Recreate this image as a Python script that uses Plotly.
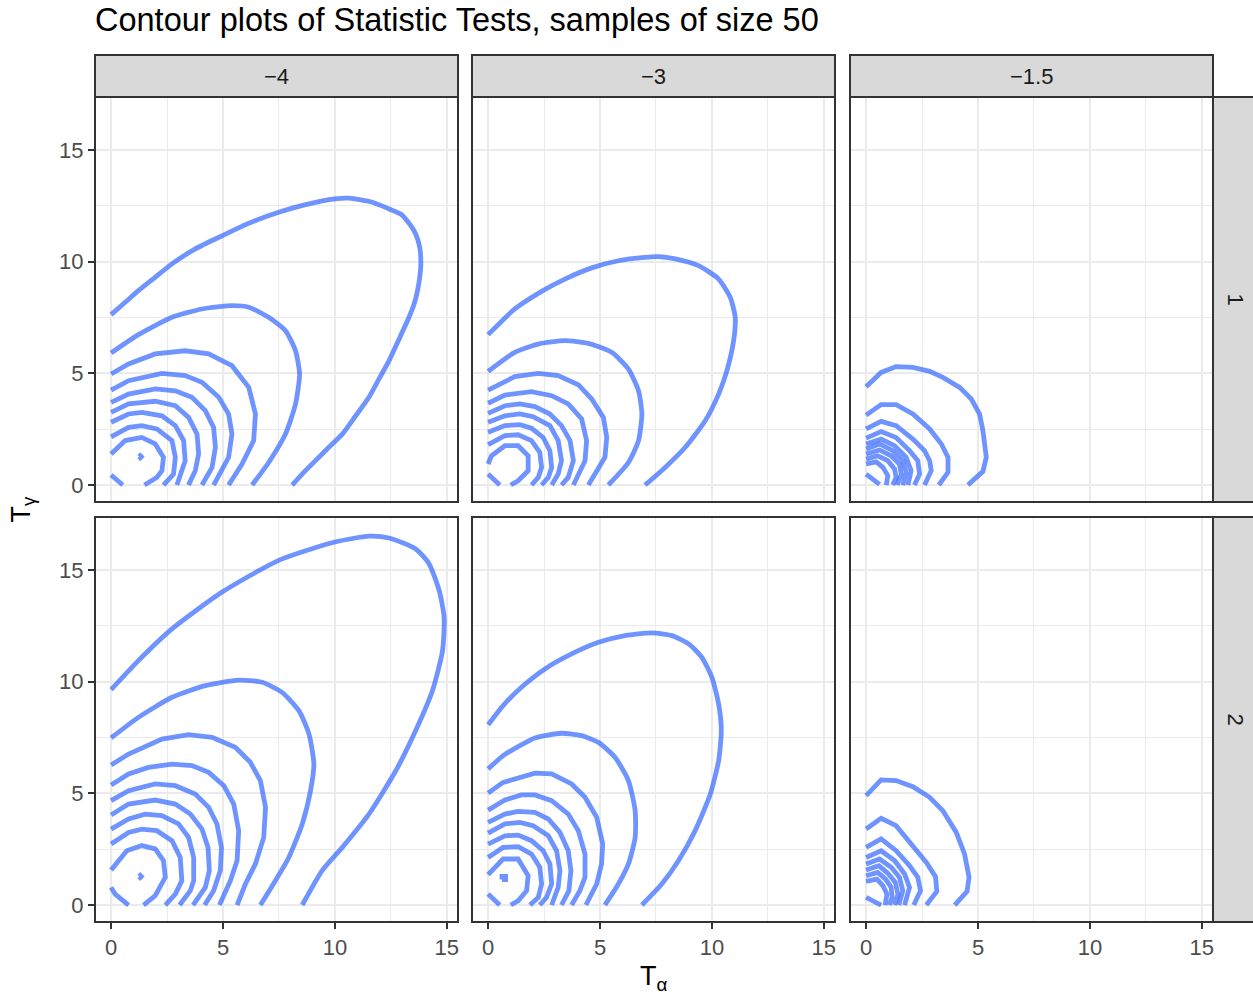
import plotly.graph_objects as go

# Facet labels
col_labels = ["\u22124", "\u22123", "\u22121.5"]
row_labels = ["1", "2"]

# Contour lines per facet, each as a list of (T_alpha, T_gamma) vertices
contours_m4_r1 = [
    [(0, 7.63), (0.63, 8.18), (1.22, 8.70), (1.97, 9.30), (2.72, 9.90), (3.76, 10.57), (4.96, 11.16),
     (6.15, 11.72), (7.49, 12.21), (8.69, 12.55), (10.0, 12.81), (10.63, 12.84), (11.67, 12.66),
     (12.42, 12.36), (12.94, 12.13), (13.39, 11.61), (13.61, 11.24), (13.79, 10.64), (13.84, 9.90),
     (13.79, 9.30), (13.69, 8.70), (13.54, 8.10), (13.31, 7.51), (12.87, 6.54), (12.42, 5.57),
     (11.97, 4.75), (11.52, 3.93), (10.93, 3.10), (10.33, 2.28), (9.73, 1.69), (9.13, 1.09),
     (8.61, 0.57), (8.09, 0)],
    [(0, 5.91), (1.22, 6.73), (2.72, 7.51), (4.06, 7.88), (5.40, 8.03), (6.15, 7.96), (7.04, 7.51),
     (7.79, 6.91), (8.24, 6.01), (8.42, 4.97), (8.24, 3.63), (7.79, 2.28), (7.04, 1.01), (6.30, 0)],
    [(0, 4.97), (0.78, 5.42), (1.97, 5.87), (3.31, 6.01), (4.36, 5.87), (5.40, 5.34), (6.15, 4.37),
     (6.45, 3.18), (6.37, 1.99), (5.85, 0.94), (5.25, 0)],
    [(0, 4.25), (0.78, 4.67), (2.27, 5.00), (3.31, 4.90), (4.06, 4.60), (4.81, 3.93), (5.25, 3.18),
     (5.40, 2.28), (5.25, 1.24), (4.58, 0)],
    [(0, 3.70), (0.78, 4.07), (1.97, 4.30), (2.87, 4.22), (3.61, 3.93), (4.21, 3.33), (4.58, 2.58),
     (4.66, 1.69), (4.51, 0.79), (4.06, 0)],
    [(0, 3.25), (0.78, 3.63), (1.97, 3.75), (2.87, 3.55), (3.46, 3.03), (3.84, 2.28), (3.91, 1.39),
     (3.76, 0.64), (3.46, 0)],
    [(0, 2.81), (0.78, 3.18), (1.37, 3.25), (2.27, 3.10), (2.87, 2.66), (3.24, 1.99), (3.31, 1.09), (2.94, 0)],
    [(0, 2.16), (0.78, 2.58), (1.37, 2.66), (2.04, 2.51), (2.72, 1.99), (2.87, 1.24), (2.79, 0.49), (2.34, 0)],
    [(0, 1.39), (0.63, 1.99), (1.37, 2.13), (1.97, 1.84), (2.34, 1.24), (2.27, 0.64), (2.04, 0.34), (1.49, 0)],
    [(0, 0.45), (0.52, 0)],
    [(1.25, 1.27), (1.30, 1.32), (1.35, 1.27), (1.30, 1.22), (1.25, 1.27)],
]

contours_m3_r1 = [
    [(0, 6.73), (1.19, 7.88), (2.39, 8.67), (3.43, 9.22), (4.63, 9.72), (5.82, 10.04), (7.01, 10.19),
     (7.61, 10.22), (8.36, 10.12), (9.40, 9.82), (10.30, 9.22), (10.82, 8.40), (11.04, 7.51), (10.97, 6.46),
     (10.67, 5.12), (10.30, 4.07), (9.70, 2.88), (8.81, 1.69), (7.91, 0.79), (7.01, 0)],
    [(0, 5.09), (1.19, 5.94), (2.24, 6.31), (3.43, 6.46), (4.48, 6.34), (5.52, 5.94), (6.27, 5.19),
     (6.72, 4.22), (6.87, 3.18), (6.72, 1.99), (6.27, 1.01), (5.37, 0)],
    [(0, 4.25), (1.19, 4.85), (2.24, 5.00), (3.13, 4.90), (4.03, 4.49), (4.63, 3.85), (5.15, 3.03),
     (5.30, 2.13), (5.22, 1.24), (4.48, 0)],
    [(0, 3.66), (0.75, 4.03), (1.94, 4.18), (2.84, 4.00), (3.58, 3.63), (4.18, 2.96), (4.40, 1.99),
     (4.33, 1.09), (3.81, 0)],
    [(0, 3.21), (0.75, 3.55), (1.42, 3.63), (2.09, 3.51), (2.76, 3.18), (3.28, 2.66), (3.66, 1.99),
     (3.81, 1.09), (3.58, 0.34), (3.28, 0)],
    [(0, 2.81), (0.75, 3.10), (1.42, 3.18), (2.01, 3.06), (2.76, 2.66), (3.13, 1.99), (3.28, 1.09),
     (3.13, 0.49), (2.84, 0)],
    [(0, 2.36), (0.75, 2.66), (1.42, 2.70), (1.94, 2.54), (2.46, 2.13), (2.76, 1.54), (2.84, 0.79),
     (2.69, 0.34), (2.39, 0)],
    [(0, 1.81), (0.75, 2.21), (1.34, 2.25), (1.94, 1.99), (2.31, 1.46), (2.39, 0.79), (2.24, 0.34), (1.94, 0)],
    [(0, 0.94), (0.15, 1.31), (0.75, 1.76), (1.34, 1.76), (1.79, 1.31), (1.79, 0.64), (1.34, 0.19), (1.01, 0)],
    [(0, 0.49), (0.52, 0)],
]

contours_m15_r1 = [
    [(0, 4.40), (0.67, 5.04), (1.34, 5.30), (2.09, 5.27), (2.84, 5.09), (3.43, 4.82), (4.18, 4.37),
     (4.70, 3.85), (5.07, 3.18), (5.22, 2.43), (5.37, 1.24), (5.22, 0.61), (4.55, 0)],
    [(0, 3.13), (0.67, 3.60), (1.34, 3.60), (2.09, 3.18), (2.84, 2.51), (3.36, 1.84), (3.66, 1.24),
     (3.66, 0.57), (3.25, 0)],
    [(0, 2.51), (0.67, 2.85), (1.34, 2.66), (2.09, 2.06), (2.61, 1.54), (2.84, 1.09), (2.91, 0.64), (2.61, 0)],
    [(0, 2.10), (0.67, 2.39), (1.34, 2.13), (1.94, 1.54), (2.31, 1.09), (2.39, 0.49), (2.16, 0)],
    [(0, 1.84), (0.67, 2.06), (1.27, 1.76), (1.79, 1.24), (2.01, 0.64), (1.87, 0)],
    [(0, 1.61), (0.60, 1.84), (1.19, 1.54), (1.64, 1.09), (1.79, 0.57), (1.64, 0)],
    [(0, 1.39), (0.60, 1.57), (1.12, 1.31), (1.49, 0.94), (1.57, 0.49), (1.39, 0)],
    [(0, 1.16), (0.52, 1.31), (0.97, 1.09), (1.27, 0.72), (1.34, 0.34), (1.19, 0)],
    [(0, 0.94), (0.45, 1.04), (0.75, 0.79), (0.97, 0.42), (0.90, 0)],
    [(0, 0.49), (0.60, 0.03)],
]

contours_m4_r2 = [
    [(0, 9.64), (1.22, 10.94), (2.72, 12.36), (4.96, 14.01), (7.49, 15.43), (10.0, 16.25), (11.52, 16.51),
     (12.42, 16.43), (13.61, 15.94), (14.21, 15.27), (14.66, 14.07), (14.88, 12.88), (14.81, 11.39),
     (14.36, 9.60), (13.61, 7.81), (12.72, 6.01), (11.52, 4.07), (10.33, 2.58), (9.43, 1.54), (8.54, 0)],
    [(0, 7.48), (1.22, 8.40), (2.72, 9.30), (4.21, 9.82), (5.70, 10.07), (6.75, 9.97), (7.64, 9.52),
     (8.39, 8.70), (8.84, 7.66), (9.06, 6.31), (8.91, 5.12), (8.54, 3.63), (7.94, 2.13), (7.34, 1.09), (6.67, 0)],
    [(0, 6.27), (0.78, 6.76), (2.27, 7.43), (3.46, 7.63), (4.51, 7.51), (5.55, 7.06), (6.22, 6.39),
     (6.67, 5.57), (6.90, 4.37), (6.82, 3.03), (6.45, 1.84), (6.00, 0.94), (5.63, 0)],
    [(0, 5.37), (0.78, 5.87), (1.67, 6.16), (2.72, 6.31), (3.61, 6.24), (4.36, 5.94), (5.04, 5.34),
     (5.48, 4.52), (5.70, 3.33), (5.63, 1.99), (5.33, 1.09), (4.84, 0)],
    [(0, 4.67), (0.78, 5.12), (1.97, 5.42), (2.87, 5.34), (3.76, 4.97), (4.36, 4.37), (4.73, 3.63),
     (4.93, 2.58), (4.88, 1.54), (4.58, 0.64), (4.18, 0)],
    [(0, 4.03), (0.78, 4.52), (1.97, 4.70), (2.87, 4.52), (3.54, 4.07), (4.06, 3.40), (4.33, 2.58),
     (4.39, 1.54), (4.21, 0.79), (3.66, 0)],
    [(0, 3.40), (0.78, 3.85), (1.52, 4.07), (2.27, 4.00), (3.01, 3.63), (3.46, 3.03), (3.69, 2.13),
     (3.69, 1.09), (3.54, 0.64), (3.06, 0)],
    [(0, 2.73), (0.78, 3.25), (1.37, 3.40), (2.04, 3.33), (2.72, 2.88), (3.09, 2.13), (3.16, 1.09),
     (2.87, 0.49), (2.42, 0)],
    [(0, 1.57), (0.33, 1.99), (0.70, 2.43), (1.37, 2.66), (1.97, 2.51), (2.34, 1.99), (2.42, 1.24),
     (1.97, 0.42), (1.45, 0)],
    [(0, 0.79), (0.18, 0.49), (0.78, 0)],
    [(1.25, 1.28), (1.30, 1.33), (1.35, 1.28), (1.30, 1.23), (1.25, 1.28)],
]

contours_m3_r2 = [
    [(0, 8.07), (0.67, 8.93), (1.49, 9.75), (2.54, 10.57), (3.73, 11.24), (4.93, 11.76), (6.12, 12.06),
     (7.31, 12.18), (8.21, 12.06), (8.96, 11.69), (9.55, 11.09), (10.0, 10.19), (10.30, 9.0), (10.42, 7.81),
     (10.30, 6.46), (9.93, 4.97), (9.25, 3.33), (8.51, 1.99), (7.76, 0.94), (6.87, 0)],
    [(0, 6.09), (0.67, 6.69), (1.34, 7.09), (2.09, 7.48), (3.28, 7.69), (4.18, 7.58), (4.93, 7.28),
     (5.67, 6.61), (6.27, 5.57), (6.57, 4.22), (6.57, 3.03), (6.27, 1.84), (5.82, 0.94), (5.22, 0)],
    [(0, 5.01), (0.67, 5.49), (2.09, 5.90), (2.84, 5.87), (3.73, 5.42), (4.33, 4.82), (4.85, 3.93),
     (5.12, 2.73), (5.07, 1.84), (4.85, 0.94), (4.37, 0)],
    [(0, 4.25), (0.75, 4.70), (1.49, 4.93), (2.09, 4.93), (2.84, 4.67), (3.58, 4.07), (4.03, 3.33),
     (4.33, 2.28), (4.33, 1.24), (4.10, 0.64), (3.73, 0)],
    [(0, 3.70), (0.75, 4.07), (1.34, 4.19), (2.09, 4.15), (2.69, 3.85), (3.21, 3.25), (3.58, 2.43),
     (3.70, 1.54), (3.61, 0.64), (3.28, 0)],
    [(0, 3.22), (0.75, 3.63), (1.42, 3.70), (2.01, 3.55), (2.69, 3.10), (3.06, 2.43), (3.21, 1.54),
     (3.13, 0.79), (2.84, 0)],
    [(0, 2.73), (0.75, 3.10), (1.34, 3.13), (1.94, 2.88), (2.46, 2.43), (2.76, 1.84), (2.84, 0.94),
     (2.61, 0.34), (2.31, 0)],
    [(0, 2.13), (0.67, 2.58), (1.34, 2.61), (1.94, 2.28), (2.31, 1.69), (2.39, 0.94), (2.24, 0.34), (1.87, 0)],
    [(0, 1.36), (0.67, 2.06), (1.34, 2.06), (1.79, 1.31), (1.72, 0.64), (1.34, 0.19), (1.01, 0)],
    [(0, 0.49), (0.52, 0)],
    [(0.62, 1.14), (0.62, 1.28), (0.78, 1.28), (0.78, 1.14), (0.62, 1.14)],
]

contours_m15_r2 = [
    [(0, 4.90), (0.67, 5.60), (1.34, 5.57), (2.09, 5.30), (2.84, 4.82), (3.43, 4.22), (4.03, 3.25),
     (4.40, 2.28), (4.60, 1.24), (4.51, 0.61), (3.96, 0)],
    [(0, 3.40), (0.67, 3.88), (1.34, 3.55), (2.09, 2.66), (2.69, 1.91), (3.10, 1.27), (3.16, 0.61), (2.69, 0)],
    [(0, 2.58), (0.67, 2.96), (1.34, 2.43), (1.94, 1.76), (2.31, 1.24), (2.43, 0.64), (2.13, 0)],
    [(0, 2.13), (0.67, 2.43), (1.27, 1.99), (1.72, 1.39), (1.94, 0.79), (1.72, 0)],
    [(0, 1.84), (0.60, 2.06), (1.12, 1.69), (1.49, 1.24), (1.64, 0.64), (1.46, 0)],
    [(0, 1.57), (0.57, 1.76), (0.97, 1.42), (1.31, 1.01), (1.42, 0.49), (1.27, 0)],
    [(0, 1.31), (0.52, 1.46), (0.87, 1.16), (1.12, 0.79), (1.16, 0.34), (1.04, 0)],
    [(0, 1.06), (0.48, 1.16), (0.75, 0.87), (0.93, 0.49), (0.85, 0)],
    [(0, 0.34), (0.67, 0)],
]

panels = [
    [contours_m4_r1, contours_m3_r1, contours_m15_r1],
    [contours_m4_r2, contours_m3_r2, contours_m15_r2],
]

W, H = 1253, 994
FONT = "Liberation Sans, Arial, sans-serif"
LINE = "rgba(51,102,255,0.7)"
BORDER = "#333333"
STRIP_FILL = "#D9D9D9"
GRID = "#EBEBEB"
TICK_SIZE = 22

# Panel boxes in pixels
col_px = [(95, 458), (472, 835), (850, 1213)]
row_px = [(97, 502), (517, 922)]
strip_top = 55
strip_right = 1253 + 20


def px_x(p):
    return p / W


def px_y(p):
    return 1 - p / H


fig = go.Figure()
layout = dict(
    width=W, height=H,
    margin=dict(l=0, r=0, t=0, b=0),
    paper_bgcolor="white", plot_bgcolor="white",
    showlegend=False,
    font=dict(family=FONT),
)

shapes = []
annotations = []

for r in range(2):
    for c in range(3):
        idx = r * 3 + c + 1
        sfx = "" if idx == 1 else str(idx)
        for k, line in enumerate(panels[r][c]):
            # the wide outer rings are smooth curves; the inner rings keep their corners
            smooth = k < 2 and c < 2
            fig.add_trace(go.Scatter(
                x=[p[0] for p in line], y=[p[1] for p in line],
                mode="lines",
                line=dict(color=LINE, width=4.8, shape="spline" if smooth else "linear",
                          smoothing=0.6 if smooth else None),
                hoverinfo="skip", xaxis="x" + sfx, yaxis="y" + sfx,
            ))
        x0, x1 = col_px[c]
        y0, y1 = row_px[r]
        layout["xaxis" + sfx] = dict(
            domain=[px_x(x0), px_x(x1)], anchor="y" + sfx,
            range=[-0.72, 15.5], tick0=0, dtick=5,
            showgrid=True, gridcolor=GRID, gridwidth=2, zeroline=False,
            minor=dict(dtick=2.5, tick0=0, showgrid=True, gridcolor=GRID, gridwidth=1, ticklen=0),
            showticklabels=(r == 1),
            ticks="outside" if r == 1 else "", ticklen=6, tickwidth=2, tickcolor=BORDER,
            tickfont=dict(size=TICK_SIZE, color="#4D4D4D", family=FONT),
            showline=False, fixedrange=True,
        )
        layout["yaxis" + sfx] = dict(
            domain=[px_y(y1), px_y(y0)], anchor="x" + sfx,
            range=[-0.76, 17.37], tick0=0, dtick=5,
            showgrid=True, gridcolor=GRID, gridwidth=2, zeroline=False,
            minor=dict(dtick=2.5, tick0=0, showgrid=True, gridcolor=GRID, gridwidth=1, ticklen=0),
            showticklabels=(c == 0),
            ticks="outside" if c == 0 else "", ticklen=6, tickwidth=2, tickcolor=BORDER,
            tickfont=dict(size=TICK_SIZE, color="#4D4D4D", family=FONT),
            showline=False, fixedrange=True,
        )
        # panel border
        shapes.append(dict(type="rect", xref="paper", yref="paper",
                           x0=px_x(x0), x1=px_x(x1), y0=px_y(y1), y1=px_y(y0),
                           line=dict(color=BORDER, width=2), fillcolor="rgba(0,0,0,0)", layer="above"))

# column strips
for c, lab in enumerate(col_labels):
    x0, x1 = col_px[c]
    shapes.append(dict(type="rect", xref="paper", yref="paper",
                       x0=px_x(x0), x1=px_x(x1), y0=px_y(row_px[0][0]), y1=px_y(strip_top),
                       line=dict(color=BORDER, width=2), fillcolor=STRIP_FILL, layer="above"))
    annotations.append(dict(text=lab, xref="paper", yref="paper",
                            x=px_x((x0 + x1) / 2), y=px_y((strip_top + row_px[0][0]) / 2),
                            showarrow=False, xanchor="center", yanchor="middle",
                            font=dict(size=TICK_SIZE, color="#1A1A1A", family=FONT)))

# row strips
for r, lab in enumerate(row_labels):
    y0, y1 = row_px[r]
    shapes.append(dict(type="rect", xref="paper", yref="paper",
                       x0=px_x(col_px[2][1]), x1=px_x(strip_right), y0=px_y(y1), y1=px_y(y0),
                       line=dict(color=BORDER, width=2), fillcolor=STRIP_FILL, layer="above"))
    annotations.append(dict(text=lab, xref="paper", yref="paper",
                            x=px_x(1235), y=px_y((y0 + y1) / 2), textangle=90,
                            showarrow=False, xanchor="center", yanchor="middle",
                            font=dict(size=TICK_SIZE, color="#1A1A1A", family=FONT)))

# title and axis titles
annotations.append(dict(text="Contour plots of Statistic Tests, samples of size 50",
                        xref="paper", yref="paper", x=px_x(93), y=px_y(20),
                        showarrow=False, xanchor="left", yanchor="middle",
                        font=dict(size=32.5, color="black", family=FONT)))
annotations.append(dict(text="T<sub>\u03b1</sub>", xref="paper", yref="paper",
                        x=px_x((col_px[0][0] + col_px[2][1]) / 2), y=px_y(978),
                        showarrow=False, xanchor="center", yanchor="middle",
                        font=dict(size=27, color="black", family=FONT)))
annotations.append(dict(text="T<sub>\u03b3</sub>", xref="paper", yref="paper",
                        x=px_x(22), y=px_y((row_px[0][0] + row_px[1][1]) / 2), textangle=-90,
                        showarrow=False, xanchor="center", yanchor="middle",
                        font=dict(size=27, color="black", family=FONT)))

layout["shapes"] = shapes
layout["annotations"] = annotations
fig.update_layout(**layout)
fig.write_html("out.html")
